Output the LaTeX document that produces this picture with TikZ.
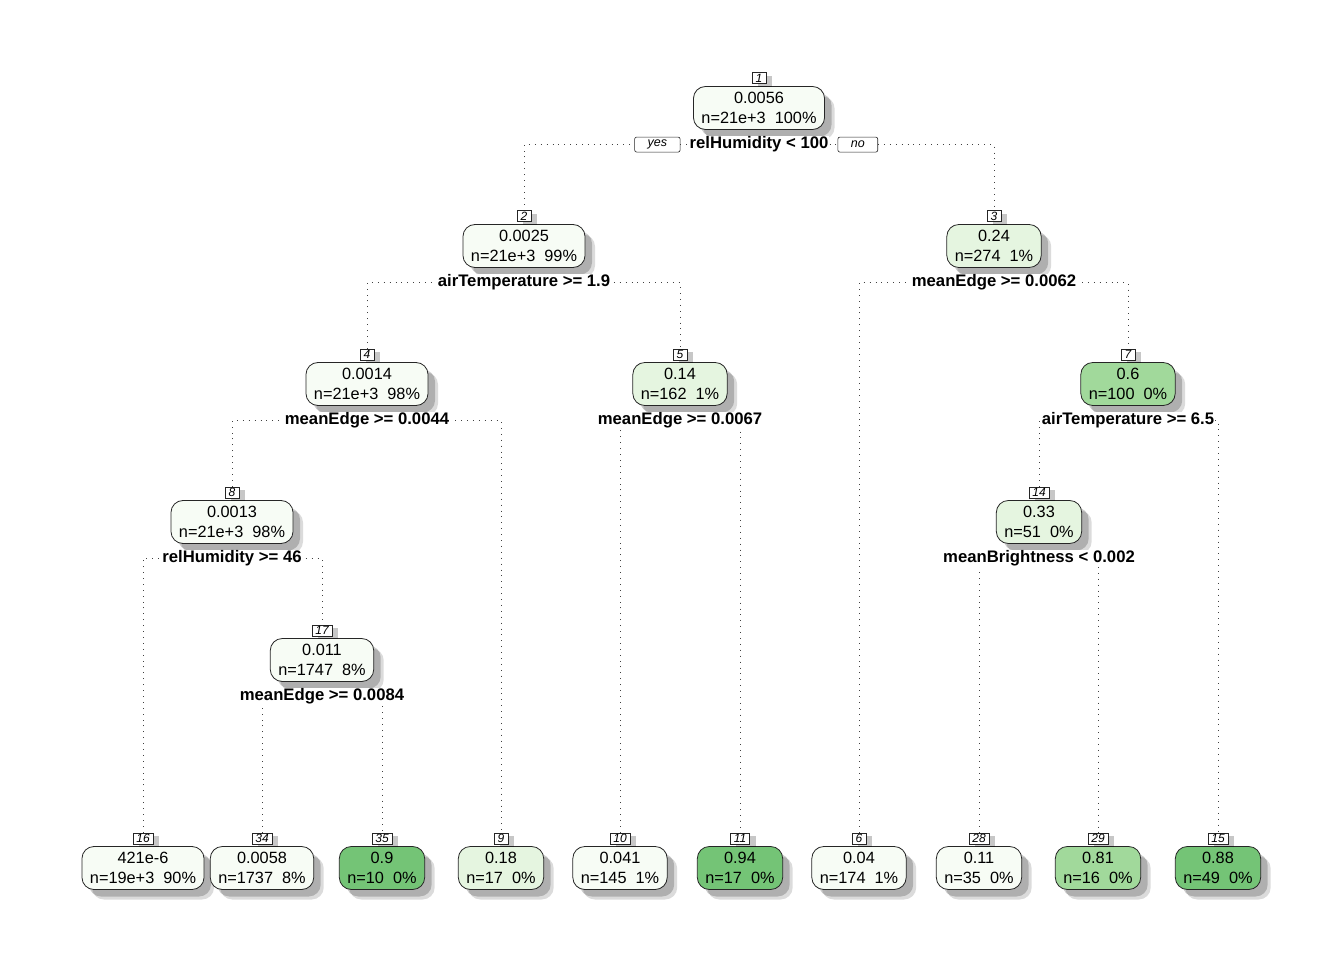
\documentclass[tikz,border=0pt]{standalone}
\usepackage{fontspec}
\setmainfont{Liberation Sans}
\usetikzlibrary{positioning,shadows,backgrounds}
\definecolor{grA}{HTML}{F7FCF5}
\definecolor{grB}{HTML}{E5F5E0}
\definecolor{grC}{HTML}{A1D99B}
\definecolor{grD}{HTML}{74C476}

\begin{document}
\begin{tikzpicture}[x=1pt,y=-1pt,
  treenode/.style={draw=black!85, line width=0.8pt, rounded corners=12pt, align=center,
    inner xsep=8pt, inner ysep=2pt, minimum height=43pt, font=\fontsize{16.3}{20}\selectfont,
    drop shadow={shadow xshift=10pt, shadow yshift=-10pt, fill=black, opacity=0.14},
    drop shadow={shadow xshift=7pt, shadow yshift=-7pt, fill=black, opacity=0.2}},
  numbox/.style={draw=black!85, fill=white, line width=0.6pt, inner xsep=3.5pt, inner ysep=0pt,
    minimum width=14pt, minimum height=11pt, font=\fontsize{12}{12}\selectfont\itshape,
    drop shadow={shadow xshift=6pt, shadow yshift=-3pt, fill=black, opacity=0.22}},
  splitlabel/.style={fill=white, inner sep=1pt, text height=11.5pt, text depth=3.5pt,
    font=\fontsize{16.7}{16.7}\selectfont\bfseries},
  yesno/.style={draw=black!85, fill=white, line width=0.6pt, rounded corners=2pt, inner xsep=13pt,
    inner ysep=0pt, minimum height=15pt, font=\fontsize{12.5}{12.5}\selectfont\itshape},
  dotline/.style={black!75, line width=0.9pt, dash pattern=on 0.9pt off 5pt}]
\useasboundingbox (0,0) rectangle (1344,960);
% Internal nodes
\node[treenode, fill=grA] (n1) at (759,108) {0.0056\\n=21e+3\ \ 100\%};
\node[treenode, fill=grA] (n2) at (524,246) {0.0025\\n=21e+3\ \ 99\%};
\node[treenode, fill=grB] (n3) at (994,246) {0.24\\n=274\ \ 1\%};
\node[treenode, fill=grA] (n4) at (367,384) {0.0014\\n=21e+3\ \ 98\%};
\node[treenode, fill=grB] (n5) at (680,384) {0.14\\n=162\ \ 1\%};
\node[treenode, fill=grC] (n7) at (1128,384) {0.6\\n=100\ \ 0\%};
\node[treenode, fill=grA] (n8) at (232,522) {0.0013\\n=21e+3\ \ 98\%};
\node[treenode, fill=grB] (n14) at (1039,522) {0.33\\n=51\ \ 0\%};
\node[treenode, fill=grA] (n17) at (322,660) {0.011\\n=1747\ \ 8\%};
% Leaves
\node[treenode, fill=grA] (n16) at (143,868) {421e-6\\n=19e+3\ \ 90\%};
\node[treenode, fill=grA] (n34) at (262,868) {0.0058\\n=1737\ \ 8\%};
\node[treenode, fill=grD] (n35) at (382,868) {0.9\\n=10\ \ 0\%};
\node[treenode, fill=grB] (n9) at (501,868) {0.18\\n=17\ \ 0\%};
\node[treenode, fill=grA] (n10) at (620,868) {0.041\\n=145\ \ 1\%};
\node[treenode, fill=grD] (n11) at (740,868) {0.94\\n=17\ \ 0\%};
\node[treenode, fill=grA] (n6) at (859,868) {0.04\\n=174\ \ 1\%};
\node[treenode, fill=grA] (n28) at (979,868) {0.11\\n=35\ \ 0\%};
\node[treenode, fill=grC] (n29) at (1098,868) {0.81\\n=16\ \ 0\%};
\node[treenode, fill=grD] (n15) at (1218,868) {0.88\\n=49\ \ 0\%};
% Node numbers
\node[numbox, above=2pt of n1] (l1) {1};
\node[numbox, above=2pt of n2] (l2) {2};
\node[numbox, above=2pt of n3] (l3) {3};
\node[numbox, above=2pt of n4] (l4) {4};
\node[numbox, above=2pt of n5] (l5) {5};
\node[numbox, above=2pt of n7] (l7) {7};
\node[numbox, above=2pt of n8] (l8) {8};
\node[numbox, above=2pt of n14] (l14) {14};
\node[numbox, above=2pt of n17] (l17) {17};
\node[numbox, above=2pt of n16] (l16) {16};
\node[numbox, above=2pt of n34] (l34) {34};
\node[numbox, above=2pt of n35] (l35) {35};
\node[numbox, above=2pt of n9] (l9) {9};
\node[numbox, above=2pt of n10] (l10) {10};
\node[numbox, above=2pt of n11] (l11) {11};
\node[numbox, above=2pt of n6] (l6) {6};
\node[numbox, above=2pt of n28] (l28) {28};
\node[numbox, above=2pt of n29] (l29) {29};
\node[numbox, above=2pt of n15] (l15) {15};
% Split labels
\node[splitlabel, below=6pt of n1] (s1) {relHumidity < 100};
\node[yesno, left=8pt of s1] (yes) {yes};
\node[yesno, right=8pt of s1] (no) {no};
\node[splitlabel, below=6pt of n2] (s2) {airTemperature >= 1.9};
\node[splitlabel, below=6pt of n3] (s3) {meanEdge >= 0.0062};
\node[splitlabel, below=6pt of n4] (s4) {meanEdge >= 0.0044};
\node[splitlabel, below=6pt of n5] (s5) {meanEdge >= 0.0067};
\node[splitlabel, below=6pt of n7] (s7) {airTemperature >= 6.5};
\node[splitlabel, below=6pt of n8] (s8) {relHumidity >= 46};
\node[splitlabel, below=6pt of n14] (s14) {meanBrightness < 0.002};
\node[splitlabel, below=6pt of n17] (s17) {meanEdge >= 0.0084};
% Branches
\begin{scope}[on background layer]
\draw[dotline] (l2.north) |- (yes.west);
\draw[dotline] (yes.east) -- (s1.west);
\draw[dotline] (s1.east) -- (no.west);
\draw[dotline] (no.east) -| (l3.north);
\draw[dotline] (l4.north) |- (s2.center) -| (l5.north);
\draw[dotline] (l6.north) |- (s3.center) -| (l7.north);
\draw[dotline] (l8.north) |- (s4.center) -| (l9.north);
\draw[dotline] (l10.north) |- (s5.center) -| (l11.north);
\draw[dotline] (l14.north) |- (s7.center) -| (l15.north);
\draw[dotline] (l16.north) |- (s8.center) -| (l17.north);
\draw[dotline] (l28.north) |- (s14.center) -| (l29.north);
\draw[dotline] (l34.north) |- (s17.center) -| (l35.north);
\end{scope}
\end{tikzpicture}
\end{document}
